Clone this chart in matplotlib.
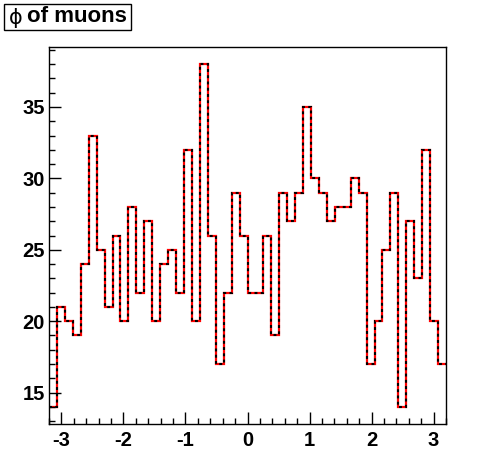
import numpy as np
import matplotlib
matplotlib.use("Agg")
import matplotlib.pyplot as plt
from matplotlib.ticker import MultipleLocator

# Histogram data: phi of muons, 50 bins from -3.2 to 3.2
x_min, x_max = -3.2, 3.2
counts = [14, 21, 20, 19, 24, 33, 25, 21, 26, 20,
          28, 22, 27, 20, 24, 25, 22, 32, 20, 38,
          26, 17, 22, 29, 26, 22, 22, 26, 19, 29,
          27, 29, 35, 30, 29, 27, 28, 28, 30, 29,
          17, 20, 25, 29, 14, 27, 23, 32, 20, 17]
x_ticks = [-3, -2, -1, 0, 1, 2, 3]
y_ticks = [15, 20, 25, 30, 35]
title = "of muons"

edges = np.linspace(x_min, x_max, len(counts) + 1)

plt.rcParams['font.family'] = ['Liberation Sans', 'DejaVu Sans']
plt.rcParams['axes.unicode_minus'] = False

fig = plt.figure(figsize=(4.96, 4.72), dpi=100)
ax = fig.add_axes([49/496, 1 - 424/472, (446-49)/496, (424-47)/472])

ax.stairs(counts, edges, baseline=None, color='red', linewidth=1.6)
ax.stairs(counts, edges, baseline=None, color='black', linewidth=1.5,
          linestyle=(0, (1.4, 1.6)))

ymin_v, ymax_v = min(counts), max(counts)
rng = ymax_v - ymin_v
ax.set_xlim(x_min, x_max)
ax.set_ylim(ymin_v - 0.05 * rng, ymax_v + 0.05 * rng)

ax.set_xticks(x_ticks)
ax.set_yticks(y_ticks)
ax.xaxis.set_minor_locator(MultipleLocator(0.2))
ax.yaxis.set_minor_locator(MultipleLocator(1))
ax.tick_params(which='both', direction='in', top=False, right=False, width=1, color='black')
ax.tick_params(which='major', length=8.8, labelsize=14.5, pad=5)
ax.tick_params(which='minor', length=4.4)
for lab in ax.get_xticklabels() + ax.get_yticklabels():
    lab.set_fontweight('bold')
ax.tick_params(axis='y', pad=3)
for s in ax.spines.values():
    s.set_linewidth(1)
    s.set_color('black')

# Title box
fig.patches.append(plt.Rectangle((4/496, 1 - 30/472), 127/496, 26/472,
                                 transform=fig.transFigure, facecolor='white',
                                 edgecolor='black', linewidth=1))
fig.text(9/496, 1 - 18/472, "\u03d5", fontsize=15, family=['DejaVu Sans'],
         va='center', ha='left')
fig.text(27/496, 1 - 17/472, title, fontsize=16, fontweight='bold',
         va='center', ha='left')

fig.savefig("out.png", dpi=100)
